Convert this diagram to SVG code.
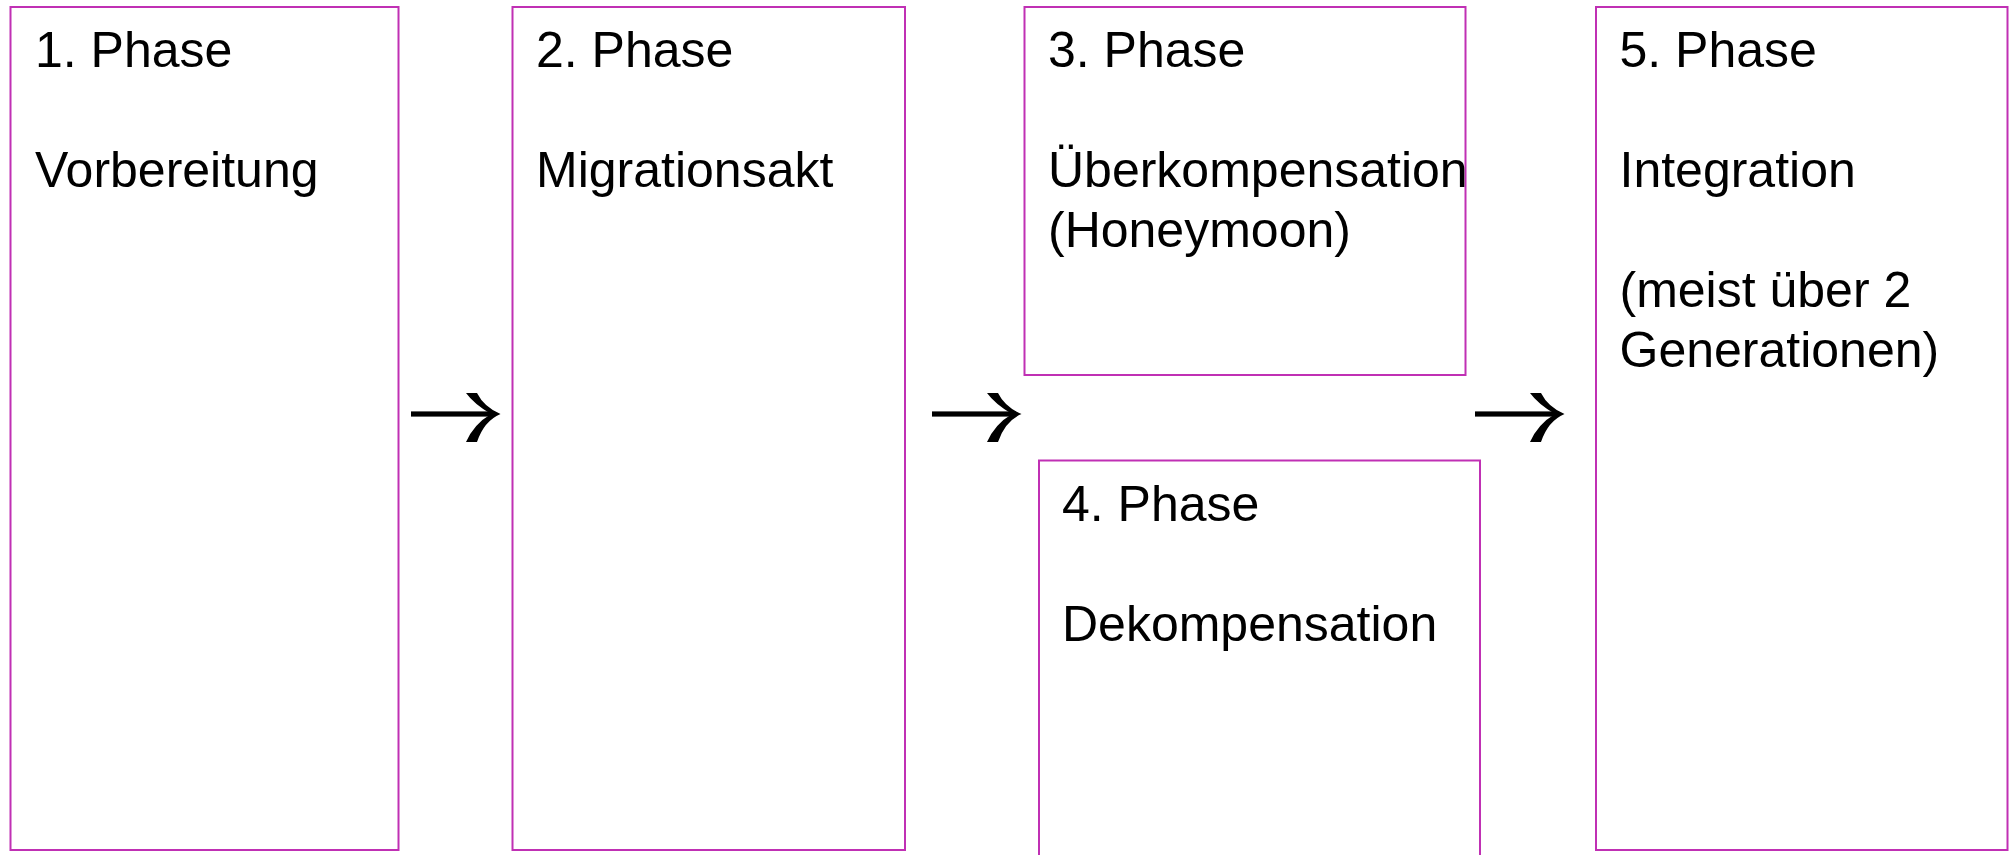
<svg xmlns="http://www.w3.org/2000/svg" xmlns:xlink="http://www.w3.org/1999/xlink" width="2011" height="855" viewBox="0 0 2011 855">
<style>
.box{fill:#ffffff;stroke:#C030B4;stroke-width:2}
.t{font-family:"Liberation Sans",Arial,sans-serif;font-size:50px;fill:#000000}
.arr{fill:#000000}
</style>
<defs>
<g id="arrow">
<rect x="0" y="-2.6" width="84" height="5.2" class="arr"/>
<path class="arr" d="M55 -21 L66 -21 Q73 -7 89.5 0 Q73 7 66 28 L55 28 Q63 10 80 0 Q63 -10 55 -21 Z"/>
</g>
</defs>
<rect width="2011" height="855" fill="#ffffff"/>
<g id="connectors">
<use xlink:href="#arrow" href="#arrow" transform="translate(411,414)"/>
<use xlink:href="#arrow" href="#arrow" transform="translate(932,414)"/>
<use xlink:href="#arrow" href="#arrow" transform="translate(1475,414)"/>
</g>
<g id="phase1">
<rect class="box" x="10.5" y="7" width="388" height="843"/>
<text class="t" x="35" y="66.7">1. Phase</text>
<text class="t" x="35" y="186.7">Vorbereitung</text>
</g>
<g id="phase2">
<rect class="box" x="512.5" y="7" width="392.5" height="843"/>
<text class="t" x="536" y="66.7">2. Phase</text>
<text class="t" x="536" y="186.7">Migrationsakt</text>
</g>
<g id="phase3">
<rect class="box" x="1024.5" y="7" width="441" height="368"/>
<text class="t" x="1048" y="66.7">3. Phase</text>
<text class="t" x="1048" y="186.7">Überkompensation</text>
<text class="t" x="1048" y="246.7">(Honeymoon)</text>
</g>
<g id="phase4">
<rect class="box" x="1039" y="460.5" width="441" height="410"/>
<text class="t" x="1062" y="521">4. Phase</text>
<text class="t" x="1062" y="641">Dekompensation</text>
</g>
<g id="phase5">
<rect class="box" x="1596" y="7" width="411.5" height="843"/>
<text class="t" x="1619.5" y="66.7">5. Phase</text>
<text class="t" x="1619.5" y="186.7">Integration</text>
<text class="t" x="1619.5" y="306.7">(meist über 2</text>
<text class="t" x="1619.5" y="366.7">Generationen)</text>
</g>
</svg>
